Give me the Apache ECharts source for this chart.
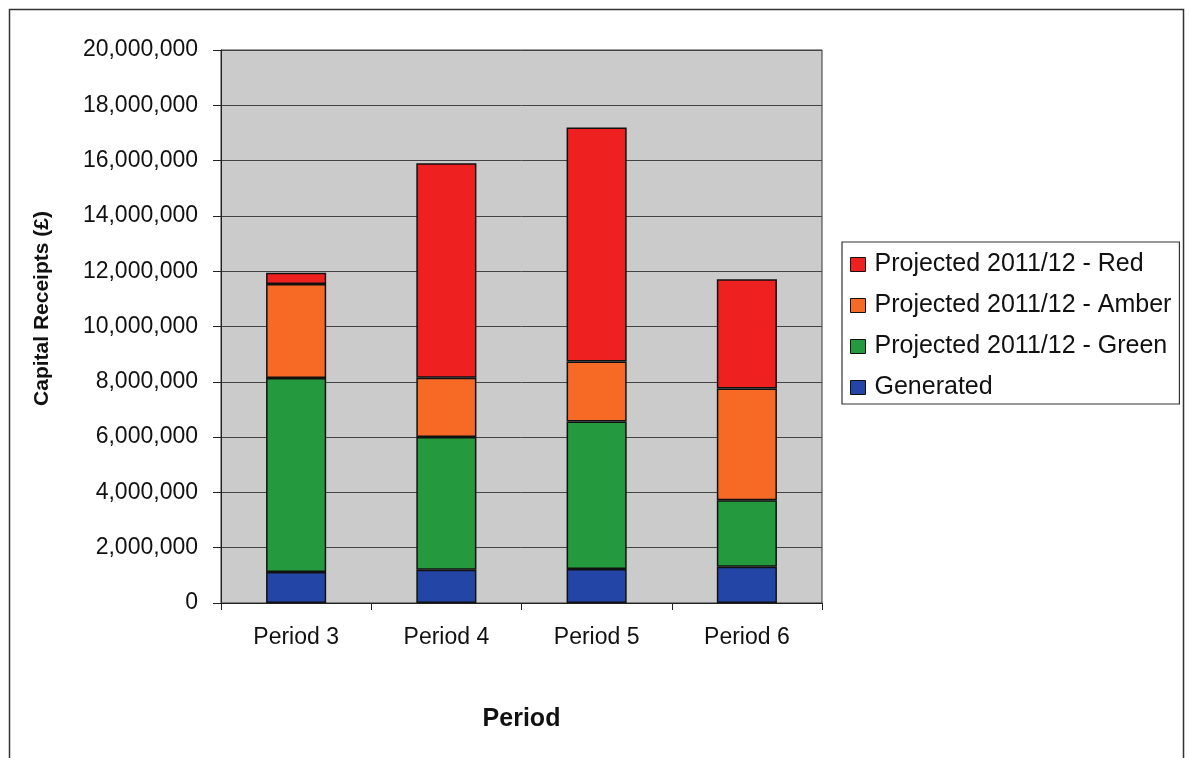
<!DOCTYPE html>
<html><head><meta charset="utf-8">
<script src="https://cdn.jsdelivr.net/npm/echarts@6/dist/echarts.min.js"></script>
<style>html,body{margin:0;padding:0;background:#fff}#c{width:1190px;height:758px}</style>
</head><body><div id="c"></div>
<script>
const categories = ['Period 3', 'Period 4', 'Period 5', 'Period 6'];
const generated = [1120000, 1200000, 1230000, 1310000];
const green = [7020000, 4800000, 5330000, 2410000];
const amber = [3400000, 2150000, 2170000, 4040000];
const red = [400000, 7750000, 8470000, 3950000];
const seriesNames = ['Generated', 'Projected 2011/12 - Green', 'Projected 2011/12 - Amber', 'Projected 2011/12 - Red'];
const colors = ['#2346a6', '#24993e', '#f66a26', '#ef2020'];

const chart = echarts.init(document.getElementById('c'));
const font = 'Arial, "Liberation Sans", sans-serif';
const mk = (name, data, color) => ({
  name, type: 'bar', stack: 's', data, barWidth: '40%',
  itemStyle: { color, borderColor: '#111', borderWidth: 1.5 }
});
chart.setOption({
  animation: false,
  graphic: [{ type: 'rect', shape: { x: 9.5, y: 9.5, width: 1174, height: 800 }, style: { fill: 'none', stroke: '#333', lineWidth: 1.5 }, silent: true }],
  grid: { left: 221, right: 368, top: 50, bottom: 155, show: true, backgroundColor: '#cbcbcb', borderColor: '#333', borderWidth: 1 },
  legend: {
    orient: 'vertical', left: 842, top: 242,
    data: [seriesNames[3], seriesNames[2], seriesNames[1], seriesNames[0]],
    icon: 'rect', itemWidth: 15, itemHeight: 14, itemGap: 16,
    padding: [10, 8, 4, 8],
    borderColor: '#333', borderWidth: 1.2,
    itemStyle: { borderColor: '#111', borderWidth: 1 },
    textStyle: { fontFamily: font, fontSize: 25, color: '#111', padding: [0, 0, 0, 4] }
  },
  xAxis: {
    type: 'category', data: categories,
    name: 'Period', nameLocation: 'middle', nameGap: 104,
    nameTextStyle: { fontFamily: font, fontSize: 25, fontWeight: 'bold', color: '#111' },
    axisLine: { lineStyle: { color: '#222', width: 1 } },
    axisTick: { show: true, alignWithLabel: false, length: 7, lineStyle: { color: '#222' } },
    axisLabel: { fontFamily: font, fontSize: 23, color: '#111', margin: 23 }
  },
  yAxis: {
    type: 'value', min: 0, max: 20000000, interval: 2000000,
    name: 'Capital Receipts (£)', nameLocation: 'middle', nameGap: 168,
    nameTextStyle: { fontFamily: font, fontSize: 21, fontWeight: 'bold', color: '#111', padding: [0, 0, 0, 36] },
    axisLine: { show: true, lineStyle: { color: '#222' } },
    axisTick: { show: true, length: 8, lineStyle: { color: '#222' } },
    splitLine: { lineStyle: { color: '#444', width: 1 } },
    axisLabel: { fontFamily: font, fontSize: 23, color: '#111', margin: 23,
      formatter: v => v.toLocaleString('en-GB') }
  },
  series: [
    mk(seriesNames[0], generated, colors[0]),
    mk(seriesNames[1], green, colors[1]),
    mk(seriesNames[2], amber, colors[2]),
    mk(seriesNames[3], red, colors[3])
  ]
});
</script></body></html>
